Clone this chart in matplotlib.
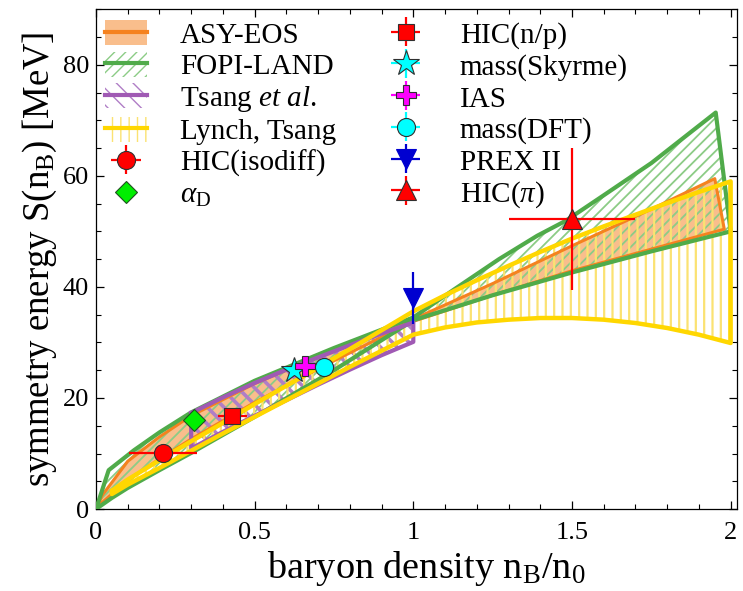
import numpy as np
import matplotlib
matplotlib.use("Agg")
import matplotlib.pyplot as plt
from matplotlib.patches import Patch
from matplotlib.lines import Line2D
from matplotlib.ticker import MultipleLocator

plt.rcParams['font.family'] = ['Liberation Serif', 'DejaVu Serif']
plt.rcParams['mathtext.fontset'] = 'custom'
plt.rcParams['mathtext.rm'] = 'Liberation Serif'
plt.rcParams['mathtext.it'] = 'Liberation Serif:italic'

# ---- bands ----
# FOPI-LAND
fopi_up_x = [0, 0.04, 0.12, 0.2, 0.3, 0.5, 0.75, 1.0, 1.13, 1.27, 1.39, 1.48, 1.6, 1.75, 1.953]
fopi_up_y = [0, 7.0, 10.6, 13.8, 17.4, 23.1, 29.0, 34.5, 39.6, 45.0, 49.2, 51.9, 56.5, 62.3, 71.4]
fopi_lo_x = [0, 0.05, 0.1, 0.2, 0.3, 0.5, 0.75, 1.0, 1.25, 1.5, 1.75, 2.0]
fopi_lo_y = [0, 2.0, 3.8, 7.0, 10.1, 16.6, 25.0, 34.0, 38.5, 42.6, 46.4, 50.0]

# ASY-EOS
asy_up_x = [0, 0.02, 0.1, 0.2, 0.3, 0.5, 0.75, 1.0, 1.25, 1.5, 1.75, 1.95]
asy_up_y = [0, 2.5, 8.6, 13.0, 16.8, 22.6, 28.6, 34.2, 40.6, 47.4, 54.0, 59.5]
asy_lo_x = [0, 0.02, 0.1, 0.2, 0.3, 0.5, 0.75, 1.0, 1.25, 1.5, 1.75, 1.98]
asy_lo_y = [0, 1.2, 5.2, 9.0, 12.6, 19.2, 26.7, 33.8, 38.5, 42.9, 46.8, 50.4]

# Tsang et al.
tsang_x = [0.3, 0.4, 0.5, 0.6, 0.7, 0.8, 0.9, 1.0]
tsang_up = [17.3, 20.1, 22.7, 25.1, 27.3, 29.5, 31.6, 33.6]
tsang_lo = [10.9, 13.9, 16.8, 19.6, 22.4, 25.1, 27.7, 30.1]

# Lynch, Tsang
lt_x = [0.05, 0.1, 0.2, 0.3, 0.4, 0.5, 0.6, 0.7, 0.8, 0.9, 1.0,
        1.1, 1.2, 1.3, 1.4, 1.5, 1.6, 1.7, 1.8, 1.9, 2.0]
lt_up = [3.3, 5.3, 8.8, 12.2, 15.5, 18.9, 22.2, 25.5, 28.8, 32.2, 35.6,
         38.5, 41.2, 43.8, 46.3, 48.7, 50.9, 53.0, 55.1, 57.1, 59.0]
lt_lo = [2.7, 4.4, 7.4, 10.5, 13.6, 16.6, 19.6, 22.6, 25.6, 28.5, 31.4,
         32.7, 33.6, 34.1, 34.4, 34.4, 34.1, 33.5, 32.6, 31.4, 29.9]

# ---- data points ----
pt_names = ['HIC(isodiff)', r'$\alpha_{\rm D}$', 'HIC(n/p)', 'mass(Skyrme)', 'IAS',
            'mass(DFT)', 'PREX II', r'HIC($\pi$)']
pt_x = [0.21, 0.31, 0.43, 0.624, 0.659, 0.72, 1.0, 1.5]
pt_y = [10.1, 16.0, 16.7, 25.1, 25.7, 25.5, 38.0, 52.2]
pt_xerr = [0.107, 0.0, 0.047, 0.0, 0.0, 0.0, 0.0, 0.2]
pt_yerr = [0.0, 0.0, 0.0, 0.0, 0.0, 0.0, 4.6, 12.8]
pt_marker = ['o', 'D', 's', '*', 'P', 'o', 'v', '^']
pt_color = ['#ff0000', '#00ee00', '#ff0000', '#00ffff', '#ff00ff', '#00ffff', '#0000d0', '#ff0000']
pt_size = [13, 11, 12, 19, 15, 13, 14, 15]

orange, orange_fill = '#f5821f', '#f7a35c'
green, green_h = '#50ab4a', '#8ccc86'
purple, purple_h = '#a05ab4', '#b07ec6'
yellow, yellow_h = '#ffd700', '#fbe272'

fig = plt.figure(figsize=(7.43, 5.91), dpi=100)
ax = fig.add_axes([0.1292, 0.1387, 0.8627, 0.8456])


def hatched(xs, ys, color, hatch, hlw, z):
    with plt.rc_context({'hatch.linewidth': hlw}):
        p = ax.fill(xs, ys, facecolor='none', edgecolor=color, lw=0, hatch=hatch, zorder=z)[0]
    if hasattr(p, 'set_hatch_linewidth'):
        p.set_hatch_linewidth(hlw)
    return p


# ASY-EOS filled band
ax_x = np.concatenate([asy_up_x, asy_lo_x[::-1]])
ax_y = np.concatenate([asy_up_y, asy_lo_y[::-1]])
ax.fill(ax_x, ax_y, facecolor=orange_fill, alpha=0.7, lw=0, zorder=1)

# FOPI-LAND
fx = np.concatenate([fopi_up_x, fopi_lo_x[::-1]])
fy = np.concatenate([fopi_up_y, fopi_lo_y[::-1]])
hatched(fx, fy, green_h, '///', 1.3, 2)

# Tsang
tx = np.concatenate([tsang_x, tsang_x[::-1]])
ty = np.concatenate([tsang_up, tsang_lo[::-1]])
hatched(tx, ty, purple_h, '\\\\', 2.6, 3)

# Lynch-Tsang
lx = np.concatenate([lt_x, lt_x[::-1]])
ly = np.concatenate([lt_up, lt_lo[::-1]])
hatched(lx, ly, yellow_h, '||', 1.6, 4)

# outlines
ax.plot(np.append(ax_x, ax_x[0]), np.append(ax_y, ax_y[0]), color=orange, lw=2.2, zorder=5)
ax.plot(np.append(fx, fx[0]), np.append(fy, fy[0]), color=green, lw=3.0, zorder=6)
ax.plot(np.append(tx, tx[0]), np.append(ty, ty[0]), color=purple, lw=3.0, zorder=7)
ax.plot(np.append(lx, lx[0]), np.append(ly, ly[0]), color=yellow, lw=3.2, zorder=8,
        solid_capstyle='round', solid_joinstyle='round')

# points
pt_handles = []
for i in range(len(pt_x)):
    if pt_marker[i] == 'D':
        h, = ax.plot(pt_x[i], pt_y[i], ls='none', marker='D', ms=pt_size[i],
                     mfc=pt_color[i], mec='#205020', mew=0.8, zorder=10)
    else:
        mec = pt_color[i] if pt_color[i] == '#0000d0' else '#303030'
        h = ax.errorbar(pt_x[i], pt_y[i], xerr=pt_xerr[i], yerr=pt_yerr[i],
                        fmt=pt_marker[i], ms=pt_size[i], mfc=pt_color[i], mec=mec,
                        mew=0.8, color=pt_color[i], elinewidth=1.6, capsize=0, zorder=10)
    pt_handles.append(h)

ax.set_xlim(0, 2.02)
ax.set_ylim(0, 90)
ax.xaxis.set_minor_locator(MultipleLocator(0.1))
ax.yaxis.set_major_locator(MultipleLocator(20))
ax.yaxis.set_minor_locator(MultipleLocator(5))
ax.set_xticks([0, 0.5, 1, 1.5, 2])
ax.set_xticklabels(['0', '0.5', '1', '1.5', '2'])
ax.tick_params(which='both', direction='in', top=True, right=True, labelsize=19)
ax.tick_params(axis='x', which='major', pad=9)
ax.tick_params(axis='y', which='major', pad=5)
ax.tick_params(which='major', length=6, width=0.9)
ax.tick_params(which='minor', length=3.5, width=0.8)
for s in ax.spines.values():
    s.set_linewidth(0.9)

ax.set_xlabel(r'baryon density n$_{\rm B}$/n$_0$', fontsize=27.5, labelpad=4, x=0.516)
ax.set_ylabel(r'symmetry energy S(n$_{\rm B}$) [MeV]', fontsize=26.5, labelpad=3)

# legend
band_handles = [
    (Patch(facecolor=orange_fill, alpha=0.7, lw=0), Line2D([], [], color=orange, lw=3)),
    (Patch(facecolor='none', edgecolor=green_h, lw=0, hatch='///'), Line2D([], [], color=green, lw=3)),
    (Patch(facecolor='none', edgecolor=purple_h, lw=0, hatch='\\\\'), Line2D([], [], color=purple, lw=3)),
    (Patch(facecolor='none', edgecolor=yellow_h, lw=0, hatch='||'), Line2D([], [], color=yellow, lw=3)),
]
band_labels = ['ASY-EOS', 'FOPI-LAND', r'Tsang $\mathit{et\ al}$.', 'Lynch, Tsang']
ax.legend(band_handles + pt_handles, band_labels + pt_names, ncol=2,
          loc='upper left', bbox_to_anchor=(0.014, 0.978), frameon=False,
          fontsize=21, handlelength=1.44, handleheight=0.95, handletextpad=1.13,
          labelspacing=0.1, columnspacing=1.67, borderaxespad=0, borderpad=0)

fig.savefig('out.png', dpi=100)
